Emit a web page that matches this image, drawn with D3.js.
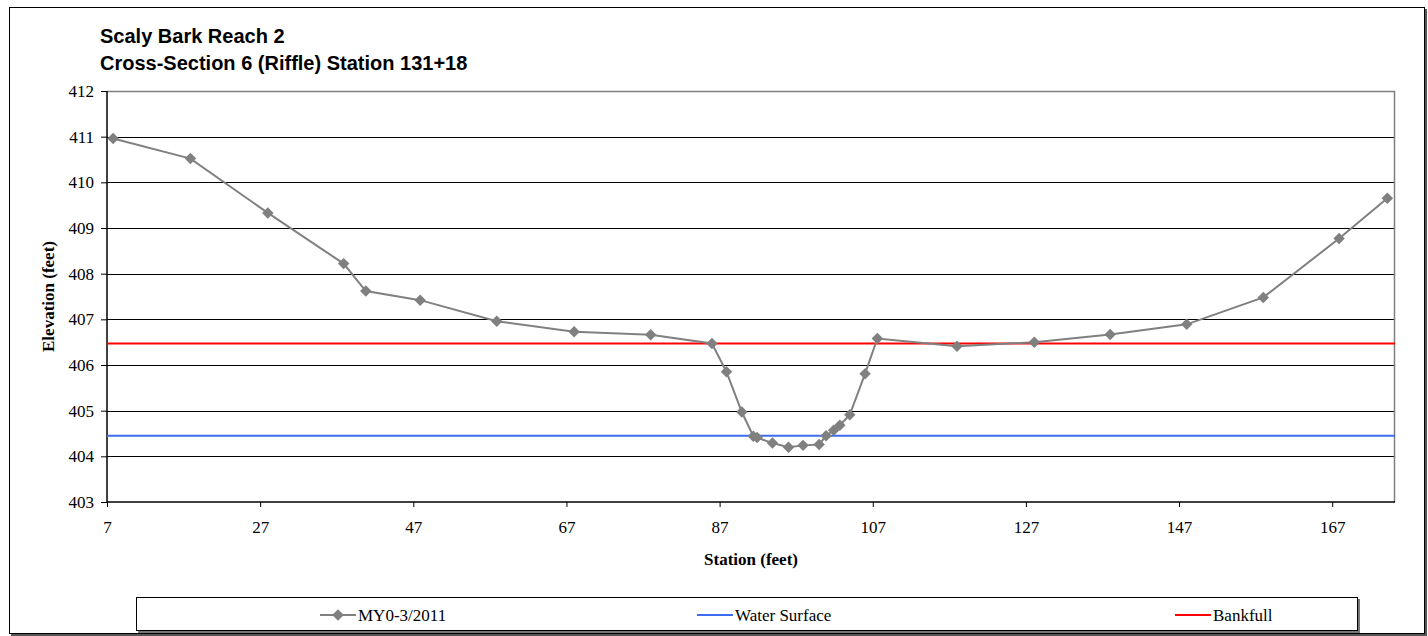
<!DOCTYPE html>
<html>
<head>
<meta charset="utf-8">
<script src="https://cdn.jsdelivr.net/npm/d3@7"></script>
<style>
  body { margin: 0; background: #fff; }
  svg { display: block; }
  .tick text { font-family: "Liberation Serif", "Times New Roman", serif; font-size: 17px; fill: #000; }
</style>
</head>
<body>
<div id="chart"></div>
<script>
// survey data: station (feet) vs elevation (feet)
const station = [7.8, 17.9, 28.0, 37.9, 40.8, 47.9, 57.9, 68.0, 78.0, 86.0, 87.9, 89.9, 91.4, 91.9, 93.9,
  96.0, 97.9, 100.0, 100.9, 101.9, 102.7, 104.0, 106.0, 107.6, 118.0, 128.1, 138.0, 148.0, 158.0, 167.9, 174.2];
const elevation = [410.96, 410.52, 409.33, 408.22, 407.62, 407.42, 406.96, 406.73, 406.66, 406.47, 405.85, 404.97, 404.44, 404.41, 404.29,
  404.20, 404.24, 404.26, 404.45, 404.57, 404.68, 404.91, 405.81, 406.58, 406.41, 406.50, 406.67, 406.89, 407.48, 408.77, 409.65];
const waterSurface = 404.45;
const bankfull = 406.47;
const xTicks = [7, 27, 47, 67, 87, 107, 127, 147, 167];
const yTicks = [403, 404, 405, 406, 407, 408, 409, 410, 411, 412];
const titleLines = ["Scaly Bark Reach 2", "Cross-Section 6 (Riffle) Station 131+18"];
const legendItems = ["MY0-3/2011", "Water Surface", "Bankfull"];

const W = 1428, H = 636;
const margin = {top: 91, right: 33, bottom: 134, left: 107};
const width = W - margin.left - margin.right,
  height = H - margin.top - margin.bottom;

const svg = d3.select("#chart").append("svg")
  .attr("width", W).attr("height", H);

// outer chart frame
svg.append("rect").attr("x", 11).attr("y", 9).attr("width", 1416).attr("height", 627).attr("fill", "#555");
svg.append("rect").attr("x", 9.5).attr("y", 7.5).attr("width", 1415).attr("height", 626)
  .attr("fill", "#fff").attr("stroke", "#000").attr("stroke-width", 1);

// title
svg.append("g").selectAll("text").data(titleLines).enter().append("text")
  .attr("x", 100).attr("y", (d, i) => 43 + i * 26.5)
  .attr("font-family", "'Liberation Sans', Arial, sans-serif")
  .attr("font-weight", "bold").attr("font-size", "20px")
  .text(d => d);

const g = svg.append("g").attr("transform", `translate(${margin.left},${margin.top})`);

const x = d3.scaleLinear().domain([7, 175.2]).range([0, width]);
const y = d3.scaleLinear().domain([403, 412]).range([height, 0]);

// gridlines
g.append("g").selectAll("line").data(yTicks.slice(1, -1)).enter().append("line")
  .attr("x1", 0).attr("x2", width)
  .attr("y1", d => Math.round(y(d)) + 0.5).attr("y2", d => Math.round(y(d)) + 0.5)
  .attr("stroke", "#000").attr("stroke-width", 1);

// plot border top/right
g.append("path")
  .attr("d", `M0,0.5H${width - 0.5}V${height}`)
  .attr("fill", "none").attr("stroke", "#808080").attr("stroke-width", 1.5);

// axes
const yAxis = g.append("g")
  .call(d3.axisLeft(y).tickValues(yTicks).tickSize(6).tickPadding(7).tickFormat(d3.format("d")));
yAxis.select(".domain").attr("stroke", "#000").attr("stroke-width", 1.5).attr("d", `M0,0V${height}`);

const xAxis = g.append("g").attr("transform", `translate(0,${height})`)
  .call(d3.axisBottom(x).tickValues(xTicks).tickSize(5).tickPadding(14).tickFormat(d3.format("d")));
xAxis.select(".domain").attr("stroke", "#000").attr("stroke-width", 1.5).attr("d", `M0,0H${width}`);

// axis titles
svg.append("text")
  .attr("x", margin.left + width / 2).attr("y", 565)
  .attr("text-anchor", "middle")
  .attr("font-family", "'Liberation Serif', 'Times New Roman', serif")
  .attr("font-weight", "bold").attr("font-size", "17px")
  .text("Station (feet)");
svg.append("text")
  .attr("transform", `translate(54,${margin.top + height / 2}) rotate(-90)`)
  .attr("text-anchor", "middle")
  .attr("font-family", "'Liberation Serif', 'Times New Roman', serif")
  .attr("font-weight", "bold").attr("font-size", "17px")
  .text("Elevation (feet)");

// water surface and bankfull
g.append("line")
  .attr("x1", 0).attr("x2", width).attr("y1", y(waterSurface)).attr("y2", y(waterSurface))
  .attr("stroke", "#3d6cf0").attr("stroke-width", 2);
g.append("line")
  .attr("x1", 0).attr("x2", width).attr("y1", y(bankfull)).attr("y2", y(bankfull))
  .attr("stroke", "#ff0000").attr("stroke-width", 2);

// survey line
const pts = station.map((s, i) => ({s: s, e: elevation[i]}));
g.append("path").datum(pts)
  .attr("fill", "none").attr("stroke", "#808080").attr("stroke-width", 2)
  .attr("d", d3.line().x(d => x(d.s)).y(d => y(d.e)));

const diamond = d3.symbol().type(d3.symbolSquare).size(66);
g.append("g").selectAll("path").data(pts).enter().append("path")
  .attr("d", diamond)
  .attr("transform", d => `translate(${x(d.s)},${y(d.e)}) rotate(45)`)
  .attr("fill", "#808080");

// legend
const lg = svg.append("g");
lg.append("rect").attr("x", 138).attr("y", 599).attr("width", 1222).attr("height", 34).attr("fill", "#777");
lg.append("rect").attr("x", 136.5).attr("y", 597.5).attr("width", 1221).attr("height", 33)
  .attr("fill", "#fff").attr("stroke", "#000").attr("stroke-width", 1);
const legendX = [320, 697, 1175];
const legendColor = ["#808080", "#3d6cf0", "#ff0000"];
const items = lg.selectAll("g.item").data(legendItems).enter().append("g")
  .attr("class", "item")
  .attr("transform", (d, i) => `translate(${legendX[i]},615)`);
items.append("line").attr("x1", 0).attr("x2", 36).attr("y1", 0).attr("y2", 0)
  .attr("stroke", (d, i) => legendColor[i]).attr("stroke-width", 2);
items.filter((d, i) => i === 0).append("path")
  .attr("d", diamond).attr("transform", "translate(18,0) rotate(45)").attr("fill", "#808080");
items.append("text")
  .attr("x", 38).attr("y", 6)
  .attr("font-family", "'Liberation Serif', 'Times New Roman', serif")
  .attr("font-size", "17px")
  .text(d => d);
</script>
</body>
</html>
